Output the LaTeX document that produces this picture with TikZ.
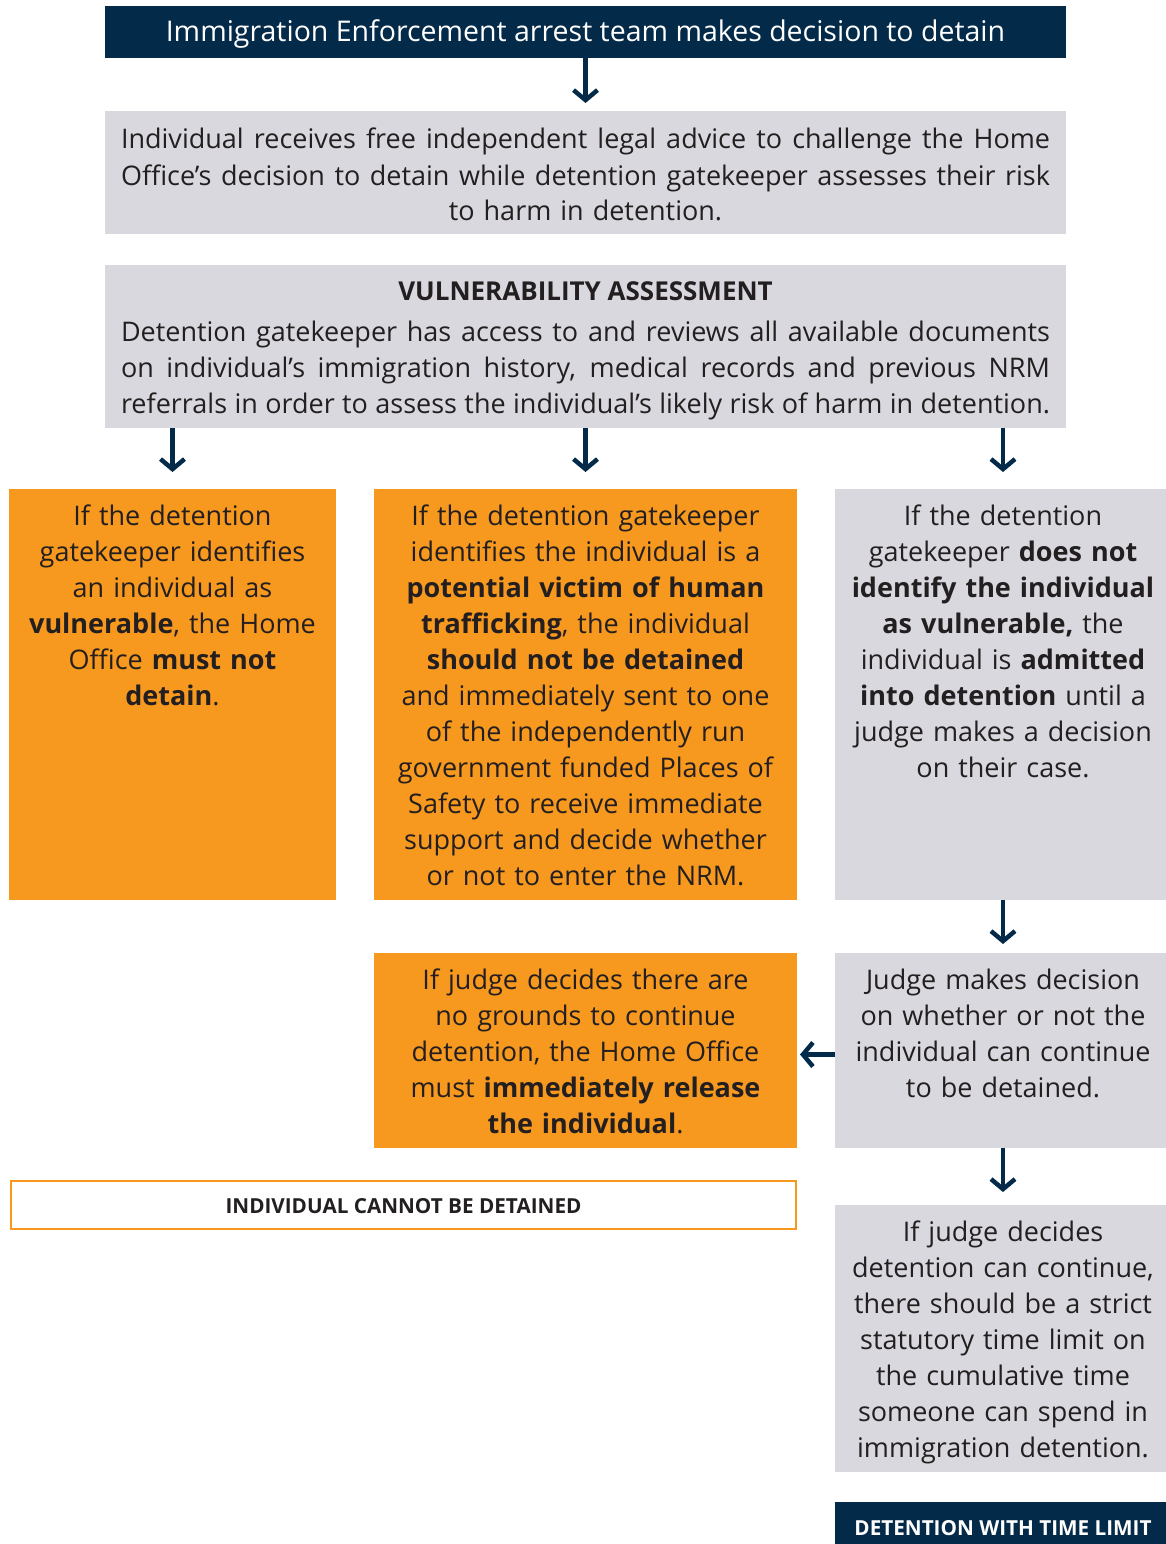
\documentclass[tikz,border=0pt]{standalone}
\usepackage{fontspec}
\setmainfont{Open Sans}
\usetikzlibrary{arrows.meta}
\definecolor{navy}{HTML}{032A48}
\definecolor{boxgray}{HTML}{D9D8DE}
\definecolor{orng}{HTML}{F7981F}
\definecolor{ink}{HTML}{231F20}
\newcommand{\jline}[1]{\leavevmode\hbox to 929pt{\spaceskip=0.26em plus 1em minus 0.12em\relax #1}}
\begin{document}
\begin{tikzpicture}[x=1pt,y=-1pt,
  box/.style={draw=none, inner sep=0, outer sep=0, anchor=north west},
  txt/.style={inner sep=0, outer sep=0, anchor=base, align=center, text=ink, font=\fontsize{27}{36}\selectfont},
  arr/.style={draw=navy, line width=4.5pt, -{Straight Barb[length=10pt,width=24pt]}}]
\useasboundingbox (0,0) rectangle (1166,1544);
% boxes
\node[box, fill=navy, minimum width=961pt, minimum height=52pt] (title) at (105,6) {};
\node[box, fill=boxgray, minimum width=961pt, minimum height=123pt] (legal) at (105,111) {};
\node[box, fill=boxgray, minimum width=961pt, minimum height=163pt] (vuln) at (105,265) {};
\node[box, fill=orng, minimum width=327pt, minimum height=411pt] (vulnbox) at (9,489) {};
\node[box, fill=orng, minimum width=423pt, minimum height=411pt] (victim) at (374,489) {};
\node[box, fill=boxgray, minimum width=331pt, minimum height=411pt] (notvuln) at (835,489) {};
\node[box, fill=boxgray, minimum width=331pt, minimum height=195pt] (judge) at (835,953) {};
\node[box, fill=orng, minimum width=423pt, minimum height=195pt] (release) at (374,953) {};
\node[box, draw=orng, line width=2pt, fill=white, minimum width=785pt, minimum height=48pt] (cannot) at (11,1181) {};
\node[box, fill=boxgray, minimum width=331pt, minimum height=267pt] (limit) at (835,1205) {};
\node[box, fill=navy, minimum width=331pt, minimum height=42pt] (withlimit) at (835,1502) {};
% texts
\node[txt, text=white, font=\fontsize{28.5}{36}\selectfont] (t1) at (title.center |- 0,42) {Immigration Enforcement arrest team makes decision to detain};
\node[txt, text width=929pt] (t2) at (legal.center |- 0,149) {\jline{Individual receives free independent legal advice to challenge the Home}\\
\jline{Office’s decision to detain while detention gatekeeper assesses their risk}\\
to harm in detention.};
\node[txt, font=\fontsize{26}{36}\selectfont\bfseries] (t3h) at (vuln.center |- 0,300) {VULNERABILITY ASSESSMENT};
\node[txt, text width=929pt] (t3) at (vuln.center |- 0,341) {\jline{Detention gatekeeper has access to and reviews all available documents}\\
\jline{on individual’s immigration history, medical records and previous NRM}\\
\jline{referrals in order to assess the individual’s likely risk of harm in detention.}};
\node[txt, text width=327pt] (t4) at (vulnbox.center |- 0,525) {If the detention\\ gatekeeper identifies\\ an individual as\\ \textbf{vulnerable}, the Home\\ Office \textbf{must not}\\ \textbf{detain}.};
\node[txt, text width=423pt] (t5) at (victim.center |- 0,525) {If the detention gatekeeper\\ identifies the individual is a\\ \textbf{potential victim of human}\\ \textbf{trafficking}, the individual\\ \textbf{should not be detained}\\ and immediately sent to one\\ of the independently run\\ government funded Places of\\ Safety to receive immediate\\ support and decide whether\\ or not to enter the NRM.};
\node[txt, text width=331pt] (t6) at ([xshift=2.5pt]notvuln.center |- 0,525) {If the detention\\ gatekeeper \textbf{does not}\\ \textbf{identify the individual}\\ \textbf{as vulnerable,} the\\ individual is \textbf{admitted}\\ \textbf{into detention} until a\\ judge makes a decision\\ on their case.};
\node[txt, text width=331pt] (t7) at ([xshift=2.5pt]judge.center |- 0,989) {Judge makes decision\\ on whether or not the\\ individual can continue\\ to be detained.};
\node[txt, text width=423pt] (t8) at (release.center |- 0,989) {If judge decides there are\\ no grounds to continue\\ detention, the Home Office\\ must \textbf{immediately release}\\ \textbf{the individual}.};
\node[txt, font=\fontsize{20.7}{24}\selectfont\bfseries] (t9) at (cannot.center |- 0,1213) {INDIVIDUAL CANNOT BE DETAINED};
\node[txt, text width=331pt] (t10) at ([xshift=2.5pt]limit.center |- 0,1241) {If judge decides\\ detention can continue,\\ there should be a strict\\ statutory time limit on\\ the cumulative time\\ someone can spend in\\ immigration detention.};
\node[txt, text=white, font=\fontsize{20.7}{24}\selectfont\bfseries] (t11) at ([xshift=2.5pt]withlimit.center |- 0,1535) {DETENTION WITH TIME LIMIT};
% arrows
\draw[arr] (title.south) -- ([yshift=8pt]legal.north);
\draw[arr] (vuln.south -| vulnbox.north) -- ([yshift=17pt]vulnbox.north);
\draw[arr] (vuln.south -| victim.north) -- ([yshift=17pt]victim.north);
\draw[arr] ([xshift=2.5pt]vuln.south -| notvuln.north) -- ([xshift=2.5pt,yshift=17pt]notvuln.north);
\draw[arr] ([xshift=2.5pt]notvuln.south) -- ([xshift=2.5pt,yshift=9pt]judge.north);
\draw[arr] ([yshift=-4pt]judge.west) -- ([xshift=3pt,yshift=-4pt]release.east);
\draw[arr] ([xshift=2.5pt]judge.south) -- ([xshift=2.5pt,yshift=13pt]limit.north);
\end{tikzpicture}
\end{document}
